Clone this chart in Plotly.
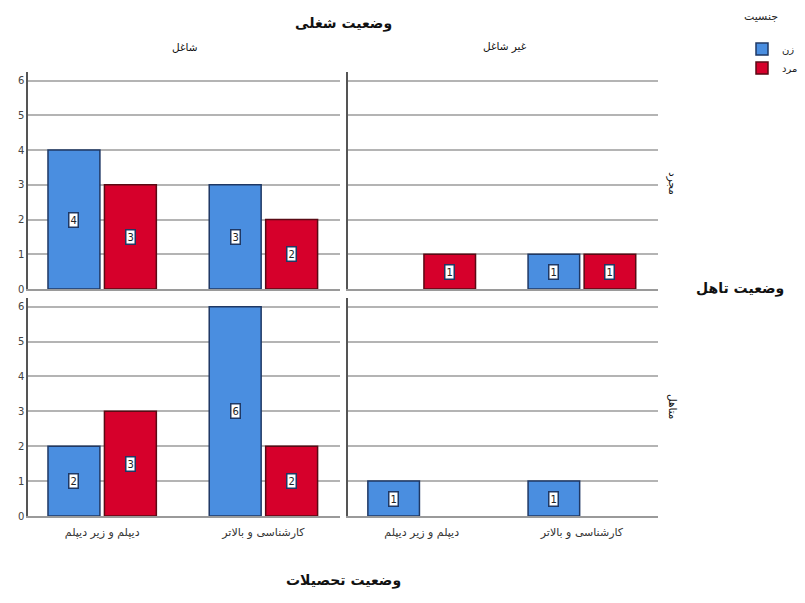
import plotly.graph_objects as go
from plotly.subplots import make_subplots

# ---- data ----
categories = ["دیپلم و زیر دیپلم", "کارشناسی و بالاتر"]
employment = ["شاغل", "غیر شاغل"]          # columns
marital = ["مجرد", "متاهل"]               # rows
genders = ["زن", "مرد"]

single_employed_female = [4, 3]
single_employed_male = [3, 2]
single_unemployed_female = [None, 1]
single_unemployed_male = [1, 1]
married_employed_female = [2, 6]
married_employed_male = [3, 2]
married_unemployed_female = [1, 1]
married_unemployed_male = [None, None]

values = [
    [[single_employed_female, single_employed_male],
     [single_unemployed_female, single_unemployed_male]],
    [[married_employed_female, married_employed_male],
     [married_unemployed_female, married_unemployed_male]],
]
y_ticks = [0, 1, 2, 3, 4, 5, 6]

# ---- style ----
FONT = "DejaVu Sans"
W, H = 805, 603
fill_colors = ["#4a8ee0", "#d6002b"]
line_colors = ["#1f3864", "#5a0a14"]
BARGAP = 0.30
GROUPGAP = 0.08

fig = make_subplots(rows=2, cols=2)

x_idx = list(range(len(categories)))
slot = (1 - BARGAP) / len(genders)

for r in range(2):
    for c in range(2):
        k = r * 2 + c
        xa = "x" if k == 0 else f"x{k+1}"
        ya = "y" if k == 0 else f"y{k+1}"
        for g in range(2):
            vals = values[r][c][g]
            fig.add_trace(
                go.Bar(
                    x=x_idx, y=vals, name=genders[g],
                    marker=dict(color=fill_colors[g],
                                line=dict(color=line_colors[g], width=1.5)),
                    showlegend=(k == 0),
                    legendgroup=genders[g],
                    hoverinfo="skip",
                ),
                row=r + 1, col=c + 1,
            )
            for i, v in enumerate(vals):
                if v is None:
                    continue
                fig.add_annotation(
                    x=i + (g - 0.5) * slot, y=v / 2, xref=xa, yref=ya,
                    text=str(v), showarrow=False,
                    font=dict(family=FONT, size=10, color="#222"),
                    bgcolor="white", bordercolor=line_colors[0],
                    borderwidth=1.5, borderpad=1,
                )

# domains as fractions of the whole figure (pixel-derived)
xdom = [[28 / W, 340 / W], [348 / W, 658 / W]]
ydom = [[(H - 289) / H, (H - 72) / H], [(H - 516) / H, (H - 298) / H]]

for r in range(2):
    for c in range(2):
        fig.update_xaxes(
            domain=xdom[c], range=[-0.46, 1.475],
            tickvals=x_idx, ticktext=categories,
            showticklabels=(r == 1), ticks="", automargin=False,
            ticklabelstandoff=5,
            showgrid=False, zeroline=False,
            showline=True, linecolor="#9a9a9a", linewidth=2,
            tickfont=dict(family=FONT, size=11, color="#333"),
            row=r + 1, col=c + 1,
        )
        fig.update_yaxes(
            domain=ydom[r], range=[0, 6.25],
            tickvals=y_ticks, showticklabels=(c == 0), automargin=False,
            ticks="", showgrid=True, gridcolor="#b4b4b4", gridwidth=1.5,
            zeroline=False,
            showline=True, linecolor="#555555", linewidth=1.5,
            tickfont=dict(family=FONT, size=10, color="#444"),
            row=r + 1, col=c + 1,
        )

def ann(text, px, py, size, angle=0, bold=False):
    fig.add_annotation(
        x=px / W, y=1 - py / H, xref="paper", yref="paper",
        text=f"<b>{text}</b>" if bold else text, showarrow=False,
        textangle=angle, font=dict(family=FONT, size=size, color="#111"),
        xanchor="center", yanchor="middle",
    )

ann("وضعیت شغلی", 343, 23, 14, bold=True)
ann(employment[0], 184, 47, 10.5)
ann(employment[1], 505, 47, 10.5)
ann(marital[0], 673, 183, 10.5, angle=90)
ann(marital[1], 673, 406, 10.5, angle=90)
ann("وضعیت تاهل", 740, 289, 14, bold=True)
ann("وضعیت تحصیلات", 343, 580, 14, bold=True)

fig.update_layout(
    width=W, height=H,
    margin=dict(l=0, r=0, t=0, b=0, autoexpand=False),
    barmode="group", bargap=BARGAP, bargroupgap=GROUPGAP,
    plot_bgcolor="white", paper_bgcolor="white",
    font=dict(family=FONT, color="#222"),
    legend=dict(
        x=742 / W, y=1 - 6 / H,
        xanchor="left", yanchor="top",
        title=dict(text="جنسیت<br> ", font=dict(family=FONT, size=11), side="top"),
        font=dict(family=FONT, size=10),
        itemwidth=30, tracegroupgap=0,
        bgcolor="rgba(0,0,0,0)",
    ),
)

fig.write_html(
    "out.html",
    config={"displayModeBar": False},
    post_script="document.body.style.margin='0';",
)
